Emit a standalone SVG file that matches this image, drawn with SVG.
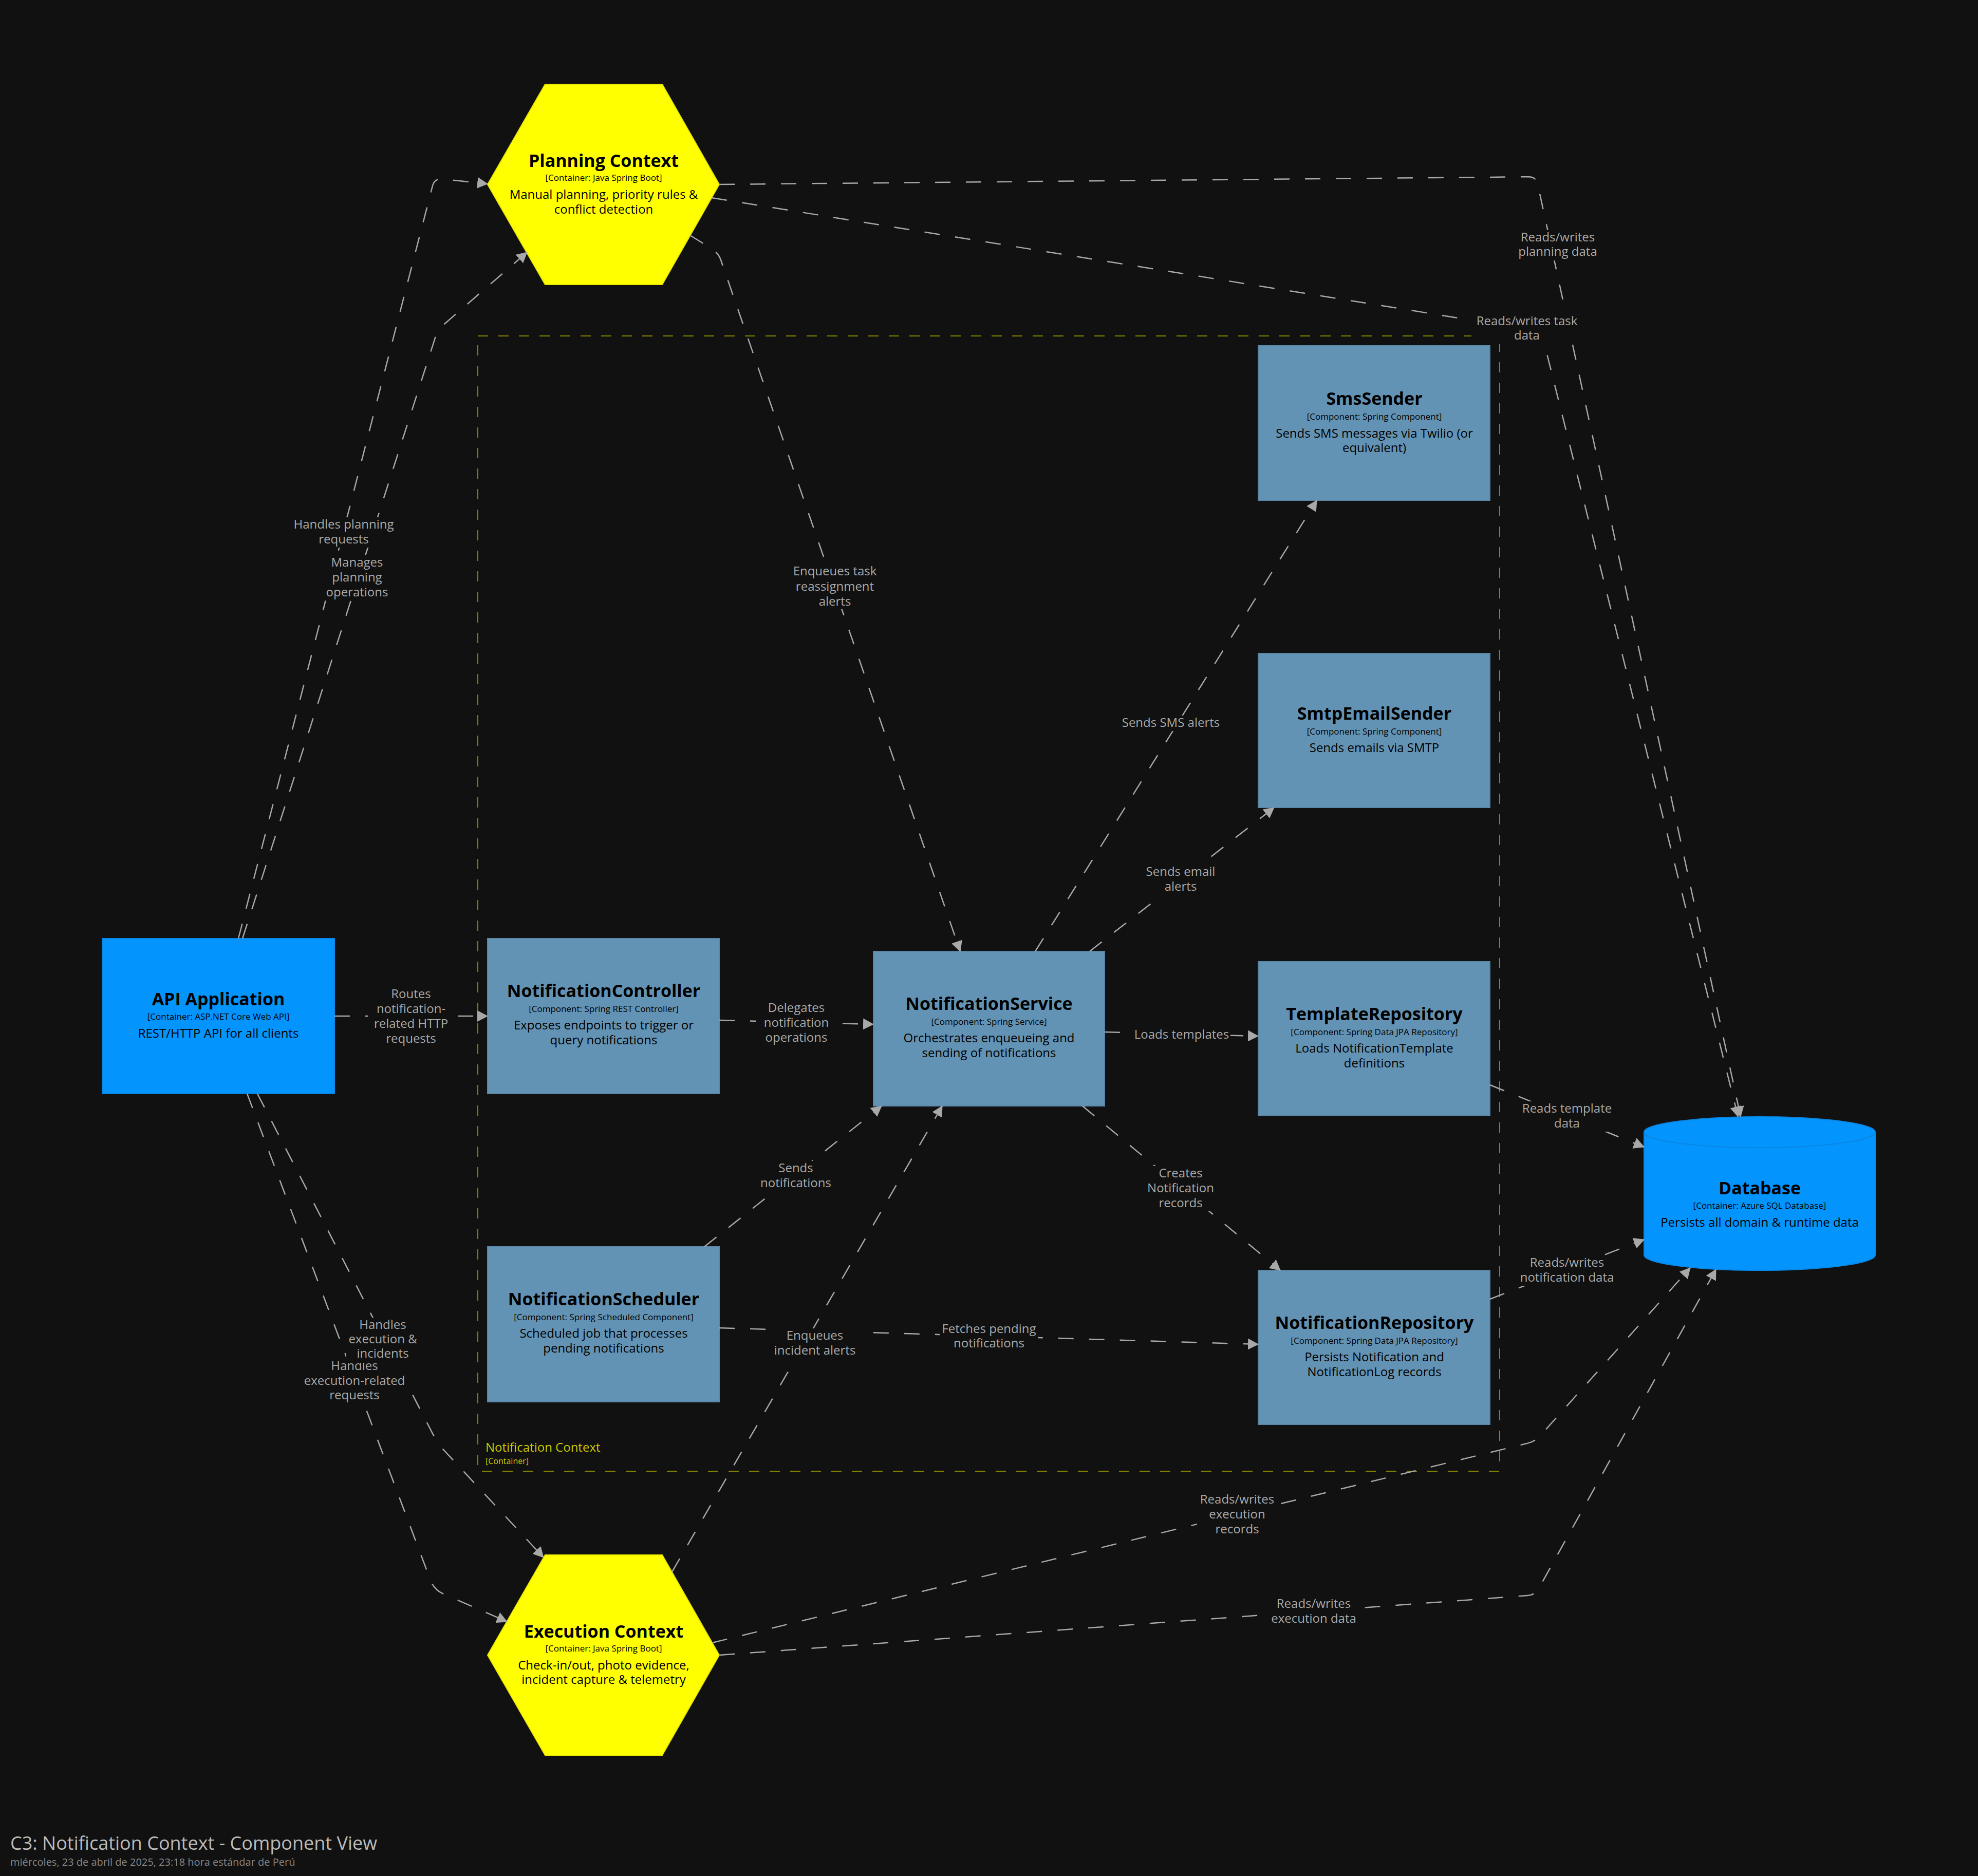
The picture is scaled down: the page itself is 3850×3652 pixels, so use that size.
<svg xmlns="http://www.w3.org/2000/svg" width="3850" height="3652" viewBox="0 0 3850 3652">
  <style>
    text { font-family: "Open Sans", "Noto Sans", "Liberation Sans", sans-serif; }
    .name { font-size: 34px; font-weight: bold; fill: #000; text-anchor: middle; }
    .meta { font-size: 17px; fill: #000; text-anchor: middle; }
    .desc { font-size: 24px; fill: #000; text-anchor: middle; }
    .comp { fill: #6393b4; stroke: #5a87a8; stroke-width: 2; }
    .cont { fill: #0394fd; stroke: #0a86e4; stroke-width: 2; }
    .hex { fill: #ffff00; stroke: #e6e600; stroke-width: 2; }
    .rel { fill: none; stroke: #a8a8a8; stroke-width: 2.5; stroke-dasharray: 30 30; marker-end: url(#arrow); }
    .lbl { font-size: 24px; fill: #aaaaaa; text-anchor: middle; }
    .lblbg { fill: #111111; }
    .bound { fill: none; stroke: #868600; stroke-width: 2; stroke-dasharray: 20 20; }
  </style>
  <defs>
    <marker id="arrow" viewBox="0 0 21 22" refX="20" refY="11" markerWidth="21" markerHeight="22" markerUnits="userSpaceOnUse" orient="auto">
      <path d="M0,0 L21,11 L0,22 z" fill="#a8a8a8"/>
    </marker>
  </defs>

  <rect x="0" y="0" width="3850" height="3652" fill="#111111"/>

  <!-- Notification Context boundary -->
  <g id="notification-context-boundary">
    <rect class="bound" x="930" y="654" width="1989" height="2210"/>
    <text x="945" y="2826" font-size="24" fill="#cccc00">Notification Context</text>
    <text x="945" y="2850" font-size="16" fill="#cccc00">[Container]</text>
  </g>

  <!-- Nodes -->
  <g id="api-application">
    <rect class="cont" x="199" y="1827" width="452" height="302"/>
    <text class="name" x="425" y="1957">API Application</text>
    <text class="meta" x="425" y="1985">[Container: ASP.NET Core Web API]</text>
    <text class="desc" x="425" y="2020">REST/HTTP API for all clients</text>
  </g>

  <g id="planning-context">
    <polygon class="hex" points="949,359 1061,164 1289,164 1400,359 1289,554 1061,554"/>
    <text class="name" x="1175" y="325">Planning Context</text>
    <text class="meta" x="1175" y="352">[Container: Java Spring Boot]</text>
    <text class="desc" x="1175" y="387">Manual planning, priority rules &amp;</text>
    <text class="desc" x="1175" y="416">conflict detection</text>
  </g>

  <g id="execution-context">
    <polygon class="hex" points="949,3222 1061,3027 1289,3027 1400,3222 1289,3417 1061,3417"/>
    <text class="name" x="1175" y="3188">Execution Context</text>
    <text class="meta" x="1175" y="3215">[Container: Java Spring Boot]</text>
    <text class="desc" x="1175" y="3250">Check-in/out, photo evidence,</text>
    <text class="desc" x="1175" y="3278">incident capture &amp; telemetry</text>
  </g>

  <g id="notification-controller">
    <rect class="comp" x="949" y="1827" width="451" height="302"/>
    <text class="name" x="1175" y="1941">NotificationController</text>
    <text class="meta" x="1175" y="1970">[Component: Spring REST Controller]</text>
    <text class="desc" x="1175" y="2004">Exposes endpoints to trigger or</text>
    <text class="desc" x="1175" y="2033">query notifications</text>
  </g>

  <g id="notification-service">
    <rect class="comp" x="1700" y="1852" width="450" height="301"/>
    <text class="name" x="1925" y="1966">NotificationService</text>
    <text class="meta" x="1925" y="1995">[Component: Spring Service]</text>
    <text class="desc" x="1925" y="2029">Orchestrates enqueueing and</text>
    <text class="desc" x="1925" y="2058">sending of notifications</text>
  </g>

  <g id="notification-scheduler">
    <rect class="comp" x="949" y="2427" width="451" height="302"/>
    <text class="name" x="1175" y="2541">NotificationScheduler</text>
    <text class="meta" x="1175" y="2570">[Component: Spring Scheduled Component]</text>
    <text class="desc" x="1175" y="2604">Scheduled job that processes</text>
    <text class="desc" x="1175" y="2633">pending notifications</text>
  </g>

  <g id="sms-sender">
    <rect class="comp" x="2449" y="673" width="451" height="301"/>
    <text class="name" x="2675" y="788">SmsSender</text>
    <text class="meta" x="2675" y="817">[Component: Spring Component]</text>
    <text class="desc" x="2675" y="852">Sends SMS messages via Twilio (or</text>
    <text class="desc" x="2675" y="880">equivalent)</text>
  </g>

  <g id="smtp-email-sender">
    <rect class="comp" x="2449" y="1272" width="451" height="300"/>
    <text class="name" x="2675" y="1401">SmtpEmailSender</text>
    <text class="meta" x="2675" y="1430">[Component: Spring Component]</text>
    <text class="desc" x="2675" y="1464">Sends emails via SMTP</text>
  </g>

  <g id="template-repository">
    <rect class="comp" x="2449" y="1872" width="451" height="300"/>
    <text class="name" x="2675" y="1986">TemplateRepository</text>
    <text class="meta" x="2675" y="2015">[Component: Spring Data JPA Repository]</text>
    <text class="desc" x="2675" y="2049">Loads NotificationTemplate</text>
    <text class="desc" x="2675" y="2078">definitions</text>
  </g>

  <g id="notification-repository">
    <rect class="comp" x="2449" y="2473" width="451" height="300"/>
    <text class="name" x="2675" y="2587">NotificationRepository</text>
    <text class="meta" x="2675" y="2616">[Component: Spring Data JPA Repository]</text>
    <text class="desc" x="2675" y="2650">Persists Notification and</text>
    <text class="desc" x="2675" y="2679">NotificationLog records</text>
  </g>

  <g id="database">
    <path class="cont" d="M3200,2204 A225,30 0 0,1 3650,2204 L3650,2443 A225,30 0 0,1 3200,2443 Z"/>
    <path d="M3200,2204 A225,30 0 0,0 3650,2204" fill="none" stroke="#0a86e4" stroke-width="2"/>
    <text class="name" x="3425" y="2325">Database</text>
    <text class="meta" x="3425" y="2353">[Container: Azure SQL Database]</text>
    <text class="desc" x="3425" y="2388">Persists all domain &amp; runtime data</text>
  </g>

  <!-- Relationships -->
  <g id="connectors">
    <path class="rel" d="M464,1827 L842,361.5 Q846,347 861,348.6 L949,358"/>
    <path class="rel" d="M472,1827 L847.4,656.3 Q852,642 863.3,632.2 L1026,491"/>
    <path class="rel" d="M651,1978 L949,1978"/>
    <path class="rel" d="M1400,1986 L1700,1994"/>
    <path class="rel" d="M2150,2009 L2449,2017"/>
    <path class="rel" d="M2015,1852 L2563,974"/>
    <path class="rel" d="M2121,1852 L2480,1572"/>
    <path class="rel" d="M2107,2153 L2492,2473"/>
    <path class="rel" d="M1371,2427 L1716,2153"/>
    <path class="rel" d="M1308,3060 L1834,2153"/>
    <path class="rel" d="M1400,2585 L2449,2617"/>
    <path class="rel" d="M1343,458 L1385,484 Q1398,492 1403,506 L1869,1852"/>
    <path class="rel" d="M1400,359 L2975,344.2 Q2990,344 2993,358.7 L3388,2174"/>
    <path class="rel" d="M1385,385 L2985,642.6 Q3000,645 3003.6,659.6 L3383,2174"/>
    <path class="rel" d="M2900,2112 L3200,2233"/>
    <path class="rel" d="M2900,2529 L3200,2413"/>
    <path class="rel" d="M1386,3198 L2973.4,2809.6 Q2988,2806 2998,2794.9 L3290,2468"/>
    <path class="rel" d="M1400,3222 L2973,3106.1 Q2988,3105 2995.3,3091.9 L3340,2471"/>
    <path class="rel" d="M501,2129 L845.1,2796.7 Q852,2810 862.2,2821 L1058,3032"/>
    <path class="rel" d="M481,2129 L838,3076.3 Q845,3095 863.3,3103 L987,3157"/>

    <!-- relationship labels -->
    <g>
      <rect class="lblbg" x="567" y="1007" width="203" height="59"/>
      <text class="lbl" x="669" y="1029">Handles planning</text>
      <text class="lbl" x="669" y="1058">requests</text>
    </g>
    <g>
      <rect class="lblbg" x="630" y="1081" width="130" height="88"/>
      <text class="lbl" x="695" y="1103">Manages</text>
      <text class="lbl" x="695" y="1132">planning</text>
      <text class="lbl" x="695" y="1161">operations</text>
    </g>
    <g>
      <rect class="lblbg" x="716" y="1921" width="167" height="117"/>
      <text class="lbl" x="800" y="1943">Routes</text>
      <text class="lbl" x="800" y="1972">notification-</text>
      <text class="lbl" x="800" y="2001">related HTTP</text>
      <text class="lbl" x="800" y="2030">requests</text>
    </g>
    <g>
      <rect class="lblbg" x="1472" y="1948" width="155" height="88"/>
      <text class="lbl" x="1550" y="1970">Delegates</text>
      <text class="lbl" x="1550" y="1999">notification</text>
      <text class="lbl" x="1550" y="2028">operations</text>
    </g>
    <g>
      <rect class="lblbg" x="2204" y="2000" width="191" height="30"/>
      <text class="lbl" x="2300" y="2022">Loads templates</text>
    </g>
    <g>
      <rect class="lblbg" x="2177" y="1393" width="203" height="30"/>
      <text class="lbl" x="2279" y="1415">Sends SMS alerts</text>
    </g>
    <g>
      <rect class="lblbg" x="2227" y="1683" width="142" height="59"/>
      <text class="lbl" x="2298" y="1705">Sends email</text>
      <text class="lbl" x="2298" y="1734">alerts</text>
    </g>
    <g>
      <rect class="lblbg" x="2220" y="2270" width="155" height="88"/>
      <text class="lbl" x="2298" y="2292">Creates</text>
      <text class="lbl" x="2298" y="2321">Notification</text>
      <text class="lbl" x="2298" y="2350">records</text>
    </g>
    <g>
      <rect class="lblbg" x="1465" y="2260" width="167" height="59"/>
      <text class="lbl" x="1549" y="2282">Sends</text>
      <text class="lbl" x="1549" y="2311">notifications</text>
    </g>
    <g>
      <rect class="lblbg" x="1829" y="2573" width="191" height="59"/>
      <text class="lbl" x="1925" y="2595">Fetches pending</text>
      <text class="lbl" x="1925" y="2623">notifications</text>
    </g>
    <g>
      <rect class="lblbg" x="1490" y="2586" width="191" height="59"/>
      <text class="lbl" x="1586" y="2608">Enqueues</text>
      <text class="lbl" x="1586" y="2637">incident alerts</text>
    </g>
    <g>
      <rect class="lblbg" x="1541" y="1098" width="167" height="88"/>
      <text class="lbl" x="1625" y="1120">Enqueues task</text>
      <text class="lbl" x="1625" y="1150">reassignment</text>
      <text class="lbl" x="1625" y="1179">alerts</text>
    </g>
    <g>
      <rect class="lblbg" x="2948" y="448" width="167" height="59"/>
      <text class="lbl" x="3032" y="470">Reads/writes</text>
      <text class="lbl" x="3032" y="498">planning data</text>
    </g>
    <g>
      <rect class="lblbg" x="2864" y="611" width="215" height="59"/>
      <text class="lbl" x="2972" y="633">Reads/writes task</text>
      <text class="lbl" x="2972" y="661">data</text>
    </g>
    <g>
      <rect class="lblbg" x="2960" y="2144" width="179" height="59"/>
      <text class="lbl" x="3050" y="2166">Reads template</text>
      <text class="lbl" x="3050" y="2195">data</text>
    </g>
    <g>
      <rect class="lblbg" x="2942" y="2444" width="215" height="59"/>
      <text class="lbl" x="3050" y="2466">Reads/writes</text>
      <text class="lbl" x="3050" y="2495">notification data</text>
    </g>
    <g>
      <rect class="lblbg" x="2330" y="2905" width="155" height="88"/>
      <text class="lbl" x="2408" y="2927">Reads/writes</text>
      <text class="lbl" x="2408" y="2956">execution</text>
      <text class="lbl" x="2408" y="2985">records</text>
    </g>
    <g>
      <rect class="lblbg" x="2467" y="3108" width="179" height="59"/>
      <text class="lbl" x="2557" y="3130">Reads/writes</text>
      <text class="lbl" x="2557" y="3159">execution data</text>
    </g>
    <g>
      <rect class="lblbg" x="582" y="2645" width="215" height="88"/>
      <text class="lbl" x="690" y="2667">Handles</text>
      <text class="lbl" x="690" y="2696">execution-related</text>
      <text class="lbl" x="690" y="2724">requests</text>
    </g>
    <g>
      <rect class="lblbg" x="674" y="2565" width="142" height="88"/>
      <text class="lbl" x="745" y="2587">Handles</text>
      <text class="lbl" x="745" y="2615">execution &amp;</text>
      <text class="lbl" x="745" y="2643">incidents</text>
    </g>
  </g>

  <!-- Footer -->
  <g id="footer">
    <text x="20" y="3601" font-size="36" fill="#bbbbbb">C3: Notification Context - Component View</text>
    <text x="20" y="3632" font-size="20" fill="#888888">miércoles, 23 de abril de 2025, 23:18 hora estándar de Perú</text>
  </g>
</svg>
